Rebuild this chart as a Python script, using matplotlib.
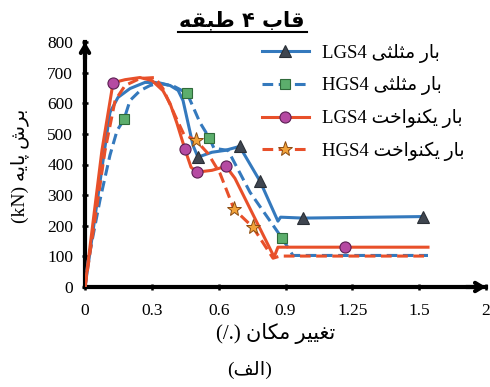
import numpy as np
import matplotlib
matplotlib.use("Agg")
import matplotlib.pyplot as plt

# ---------------- data ----------------
x_ticks = [0, 0.3, 0.6, 0.9, 1.25, 1.5, 2]
x_tick_labels = ["0", "0.3", "0.6", "0.9", "1.25", "1.5", "2"]
y_ticks = [0, 100, 200, 300, 400, 500, 600, 700, 800]

# LGS4 - triangular load (blue solid, triangles)
x_lgs4_tri = [0, 0.081, 0.112, 0.148, 0.202, 0.269, 0.314, 0.382, 0.418, 0.440, 0.485, 0.507,
              0.570, 0.628, 0.694, 0.786, 0.866, 0.878, 0.992, 1.529]
y_lgs4_tri = [0, 413, 570, 619, 648, 668, 668, 658, 642, 609, 462, 424,
              440, 446, 459, 345, 215, 228, 225, 230]
mk_lgs4_tri = [11, 14, 15, 18, 19]

# HGS4 - triangular load (blue dashed, squares)
x_hgs4_tri = [0, 0.013, 0.067, 0.112, 0.144, 0.175, 0.202, 0.247, 0.292, 0.337, 0.400, 0.458,
              0.516, 0.557, 0.579, 0.642, 0.741, 0.884, 0.939, 1.566]
y_hgs4_tri = [0, 81, 283, 430, 511, 547, 609, 641, 658, 666, 655, 633,
              537, 488, 453, 446, 309, 160, 103, 103]
mk_hgs4_tri = [5, 11, 13, 17]

# LGS4 - uniform load (orange solid, circles)
x_lgs4_uni = [0, 0.076, 0.126, 0.180, 0.247, 0.301, 0.350, 0.382, 0.413, 0.449, 0.476, 0.503,
              0.570, 0.633, 0.673, 0.849, 0.866, 1.212, 1.566]
y_lgs4_uni = [0, 446, 667, 677, 684, 674, 641, 599, 534, 449, 391, 375,
              381, 394, 355, 98, 130, 130, 130]
mk_lgs4_uni = [2, 9, 11, 13, 17]

# HGS4 - uniform load (orange dashed, stars)
x_hgs4_uni = [0, 0.090, 0.135, 0.180, 0.247, 0.314, 0.350, 0.404, 0.444, 0.498, 0.552, 0.606,
              0.669, 0.754, 0.844, 0.875, 1.566]
y_hgs4_uni = [0, 446, 609, 658, 681, 684, 648, 560, 498, 479, 436, 371,
              254, 195, 94, 101, 101]
mk_hgs4_uni = [9, 12, 13]

title_txt = "قاب ۴ طبقه"
xlabel_txt = "تغییر مکان"
xlabel_unit = "(/.)"
ylabel_txt = "برش پایه"
ylabel_unit = "(kN)"
caption_txt = "الف"
load_tri = "بار مثلثی"
load_uni = "بار یکنواخت"

# ---------------- Arabic shaping (presentation forms, visual order) ----------------
FORMS = {
    'ا': ('\uFE8D', '\uFE8E', None, None),
    'ب': ('\uFE8F', '\uFE90', '\uFE91', '\uFE92'),
    'پ': ('\uFB56', '\uFB57', '\uFB58', '\uFB59'),
    'ت': ('\uFE95', '\uFE96', '\uFE97', '\uFE98'),
    'ث': ('\uFE99', '\uFE9A', '\uFE9B', '\uFE9C'),
    'خ': ('\uFEA5', '\uFEA6', '\uFEA7', '\uFEA8'),
    'ر': ('\uFEAD', '\uFEAE', None, None),
    'ش': ('\uFEB5', '\uFEB6', '\uFEB7', '\uFEB8'),
    'ط': ('\uFEC1', '\uFEC2', '\uFEC3', '\uFEC4'),
    'غ': ('\uFECD', '\uFECE', '\uFECF', '\uFED0'),
    'ف': ('\uFED1', '\uFED2', '\uFED3', '\uFED4'),
    'ق': ('\uFED5', '\uFED6', '\uFED7', '\uFED8'),
    'ک': ('\uFB8E', '\uFB8F', '\uFB90', '\uFB91'),
    'ل': ('\uFEDD', '\uFEDE', '\uFEDF', '\uFEE0'),
    'م': ('\uFEE1', '\uFEE2', '\uFEE3', '\uFEE4'),
    'ن': ('\uFEE5', '\uFEE6', '\uFEE7', '\uFEE8'),
    'ه': ('\uFEE9', '\uFEEA', '\uFEEB', '\uFEEC'),
    'و': ('\uFEED', '\uFEEE', None, None),
    'ی': ('\uFBFC', '\uFBFD', '\uFBFE', '\uFBFF'),
}


def rtl(s):
    out = []
    for i, c in enumerate(s):
        if c not in FORMS:
            out.append(c)
            continue
        prev = s[i - 1] if i > 0 else ''
        nxt = s[i + 1] if i + 1 < len(s) else ''
        jp = prev in FORMS and FORMS[prev][2] is not None
        jn = FORMS[c][2] is not None and nxt in FORMS
        iso, fin, ini, med = FORMS[c]
        if jp and jn:
            out.append(med)
        elif jp:
            out.append(fin)
        elif jn:
            out.append(ini)
        else:
            out.append(iso)
    return ''.join(out)[::-1]


MIXED = ['Liberation Serif', 'DejaVu Sans']
ARAB = ['DejaVu Sans']

# ---------------- figure ----------------
fig = plt.figure(figsize=(4.9, 3.87), dpi=100)
ax = fig.add_axes([85 / 490, 1 - 287 / 387, (486 - 85) / 490, (287 - 42) / 387])

pos = np.arange(len(x_ticks), dtype=float)


def fwd(v):
    return np.interp(v, x_ticks, pos)


def inv(p):
    return np.interp(p, pos, x_ticks)


ax.set_xscale('function', functions=(fwd, inv))
ax.set_xlim(0, 2)
ax.set_ylim(0, 800)

BLUE = '#3479bd'
ORANGE = '#e8502a'

l1, = ax.plot(x_lgs4_tri, y_lgs4_tri, color=BLUE, lw=2.2, marker='^', markevery=mk_lgs4_tri,
              ms=8.5, mfc='#3f4650', mec='#2a2f36', mew=0.8, zorder=3)
l2, = ax.plot(x_hgs4_tri, y_hgs4_tri, color=BLUE, lw=2.2, dashes=(3.5, 1.8), marker='s',
              markevery=mk_hgs4_tri, ms=7.5, mfc='#5cae6c', mec='#2f6a3a', mew=0.8, zorder=3)
l3, = ax.plot(x_lgs4_uni, y_lgs4_uni, color=ORANGE, lw=2.2, marker='o', markevery=mk_lgs4_uni,
              ms=8, mfc='#b54aa2', mec='#5a1f52', mew=0.8, zorder=4)
l4, = ax.plot(x_hgs4_uni, y_hgs4_uni, color=ORANGE, lw=2.2, dashes=(3.5, 1.8), marker='*',
              markevery=mk_hgs4_uni, ms=11, mfc='#f2a33a', mec='#8a4a10', mew=0.7, zorder=4)

# axes styling
for s in ['top', 'right']:
    ax.spines[s].set_visible(False)
for s in ['left', 'bottom']:
    ax.spines[s].set_linewidth(3)
ax.set_xticks(x_ticks)
ax.set_xticklabels(x_tick_labels)
ax.set_yticks(y_ticks)
ax.tick_params(axis='both', direction='inout', length=5, width=1.8, labelsize=12.5,
               colors='black')
ax.tick_params(axis='x', pad=9)
ax.tick_params(axis='y', pad=6)
for lbl in ax.get_xticklabels() + ax.get_yticklabels():
    lbl.set_fontfamily('Liberation Serif')

arrow_kw = dict(arrowstyle='->,head_length=0.5,head_width=0.3', lw=3, color='black',
                shrinkA=0, shrinkB=0)
ax.annotate('', xy=(1.0, 0), xytext=(0.95, 0), xycoords='axes fraction',
            arrowprops=arrow_kw, annotation_clip=False)
ax.annotate('', xy=(0, 1.0), xytext=(0, 0.93), xycoords='axes fraction',
            arrowprops=arrow_kw, annotation_clip=False)

# legend
labels = [
    "LGS4 " + rtl(load_tri),
    "HGS4 " + rtl(load_tri),
    "LGS4 " + rtl(load_uni),
    "HGS4 " + rtl(load_uni),
]
leg = ax.legend([l1, l2, l3, l4], labels, loc='upper left',
                bbox_to_anchor=((262 - 85) / 401, 0.993), frameon=False,
                borderpad=0, borderaxespad=0,
                numpoints=1, handlelength=2.5, handletextpad=0.7, labelspacing=0.72,
                prop={'family': MIXED, 'size': 13.5})

# texts
fig.text(242 / 490, 1 - 20 / 387, rtl(title_txt), family=ARAB, fontweight='bold',
         fontsize=15, ha='center', va='center')
fig.add_artist(plt.Line2D([178 / 490, 307 / 490], [1 - 32 / 387, 1 - 32 / 387],
                          color='black', lw=1.5))
fig.text(276 / 490, 1 - 333 / 387, xlabel_unit + " " + rtl(xlabel_txt), family=MIXED,
         fontsize=15, ha='center', va='center')
fig.text(20 / 490, 1 - 166 / 387, ylabel_unit + " " + rtl(ylabel_txt), family=MIXED,
         fontsize=14, ha='center', va='center', rotation=90)
fig.text(250 / 490, 1 - 370 / 387, "(" + rtl(caption_txt) + ")", family=MIXED,
         fontsize=14, ha='center', va='center')

fig.savefig('out.png', dpi=100)
